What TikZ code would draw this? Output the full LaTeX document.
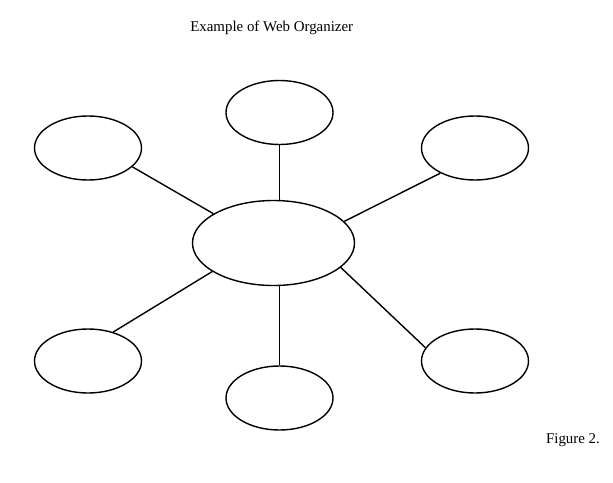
\documentclass[tikz,border=0pt]{standalone}
\usepackage{fontspec}
\setmainfont{Liberation Serif}
\usetikzlibrary{shapes.geometric}
\tikzset{
  bubble/.style={draw, ellipse, line width=1.4pt, inner sep=0pt, minimum width=107pt, minimum height=64pt},
  hub/.style={draw, ellipse, line width=1.4pt, inner sep=0pt, minimum width=162pt, minimum height=85pt},
  spoke/.style={line width=1.4pt},
  label/.style={font=\fontsize{14.9}{17}\selectfont, inner sep=0pt, anchor=base}
}
\begin{document}
\begin{tikzpicture}[x=1pt,y=-1pt]
\useasboundingbox[fill=white] (0,0) rectangle (613,482);
\node[label] (title) at (271.7,31.7) {Example of Web Organizer};
\node[label] (fig) at (573,443) {Figure 2.};
\node[hub] (c) at (273.5,243) {};
\node[bubble] (t) at (279.5,112.5) {};
\node[bubble] (tl) at (88,148) {};
\node[bubble] (tr) at (475,148) {};
\node[bubble] (bl) at (88,361) {};
\node[bubble] (b) at (279.5,398) {};
\node[bubble] (br) at (475,361) {};
\draw[spoke] (t.south) -- (t.south |- c.north);
\draw[spoke] (b.north) -- (b.north |- c.south);
\draw[spoke] (tl.-23.8) -- (c.154.8);
\draw[spoke] (tr.216.1) -- (c.17.3);
\draw[spoke] (bl.49.2) -- (c.205.2);
\draw[spoke] (br.165.7) -- (c.-20.9);
\end{tikzpicture}
\end{document}
